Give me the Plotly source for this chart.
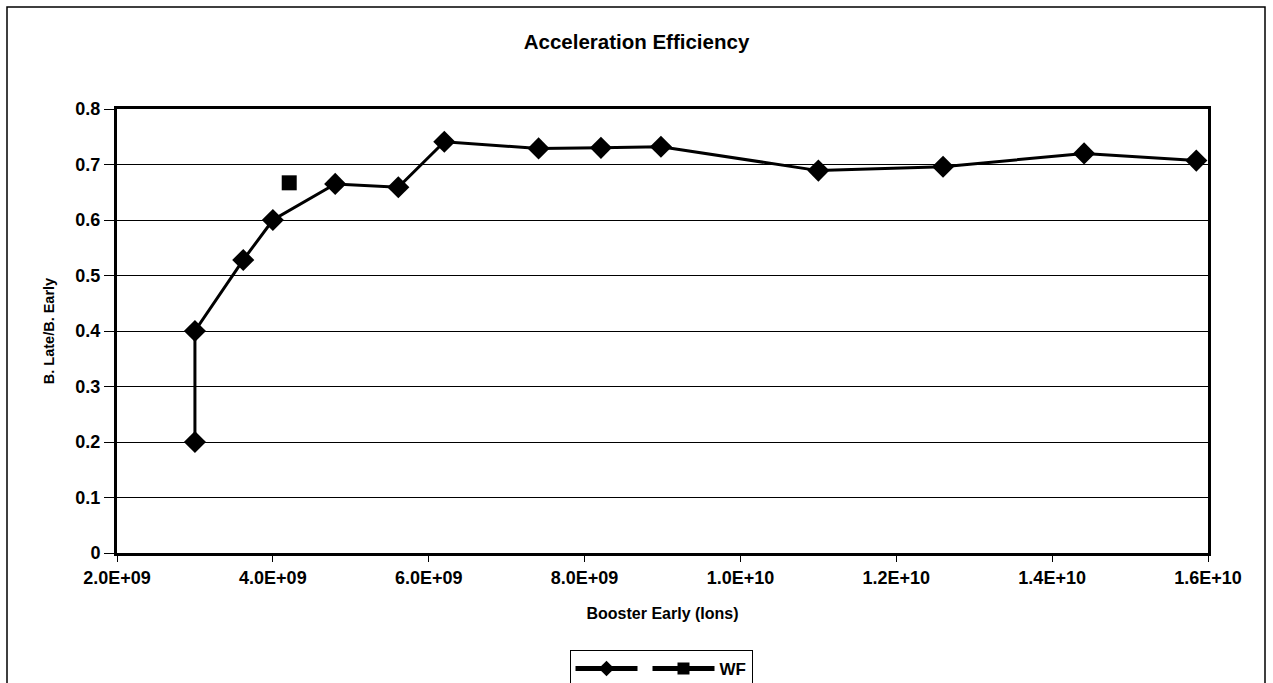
import plotly.graph_objects as go

# Data
booster_early = [3.0e9, 3.0e9, 3.62e9, 4.0e9, 4.8e9, 5.61e9, 6.2e9, 7.41e9, 8.21e9, 8.98e9,
                 1.10e10, 1.26e10, 1.441e10, 1.585e10]
ratio = [0.20, 0.40, 0.528, 0.600, 0.665, 0.659, 0.741, 0.729, 0.730, 0.732,
         0.689, 0.696, 0.720, 0.707]
wf_x = [4.21e9]
wf_y = [0.667]

x_ticks = [2e9, 4e9, 6e9, 8e9, 1e10, 1.2e10, 1.4e10, 1.6e10]
x_tick_labels = ["2.0E+09", "4.0E+09", "6.0E+09", "8.0E+09", "1.0E+10", "1.2E+10", "1.4E+10", "1.6E+10"]
y_ticks = [0, 0.1, 0.2, 0.3, 0.4, 0.5, 0.6, 0.7, 0.8]
y_tick_labels = ["0", "0.1", "0.2", "0.3", "0.4", "0.5", "0.6", "0.7", "0.8"]

FONT = "Liberation Sans, Arial, sans-serif"

fig = go.Figure()
fig.add_trace(go.Scatter(
    x=booster_early, y=ratio, mode="lines+markers", name="",
    line=dict(color="black", width=3),
    marker=dict(symbol="diamond", size=17, color="black"),
))
fig.add_trace(go.Scatter(
    x=wf_x, y=wf_y, mode="lines+markers", name="WF",
    line=dict(color="black", width=3),
    marker=dict(symbol="square", size=15, color="black"),
))

W, H = 1273, 683
L, R, T, B = 117, 65, 109, 130
pw, ph = W - L - R, H - T - B

def px_x(px):
    return (px - L) / pw

def px_y(py):
    return (H - B - py) / ph

fig.update_layout(
    width=W, height=H,
    margin=dict(l=L, r=R, t=T, b=B, autoexpand=False),
    paper_bgcolor="white", plot_bgcolor="white",
    font=dict(family=FONT, color="black"),
    title=dict(text="<b>Acceleration Efficiency</b>", x=0.5, xref="container",
               y=1 - 42 / H, yanchor="middle", font=dict(size=20.5, family=FONT)),
    showlegend=True,
    legend=dict(orientation="h", x=px_x(661), xanchor="center", y=px_y(650), yanchor="top",
                bordercolor="black", borderwidth=1, itemwidth=62,
                font=dict(size=17, family=FONT, weight="bold"),
                tracegroupgap=0, itemsizing="constant"),
    xaxis=dict(range=[2e9, 1.6e10], tickvals=x_ticks, ticktext=x_tick_labels,
               ticks="outside", ticklen=6, tickwidth=1, tickcolor="black",
               showgrid=False, zeroline=False,
               showline=True, linecolor="black", linewidth=3, mirror=True,
               tickfont=dict(size=18, family=FONT, weight="bold"),
               title=dict(text="<b>Booster Early (Ions)</b>", font=dict(size=16, family=FONT), standoff=22)),
    yaxis=dict(range=[0, 0.8], tickvals=y_ticks, ticktext=y_tick_labels,
               ticks="outside", ticklen=10, tickwidth=1, tickcolor="black",
               showgrid=True, gridcolor="black", gridwidth=1, zeroline=False,
               showline=True, linecolor="black", linewidth=3, mirror=True,
               tickfont=dict(size=18, family=FONT, weight="bold"),
               title=dict(text="<b>B. Late/B. Early</b>", font=dict(size=14.5, family=FONT), standoff=18)),
    shapes=[dict(type="rect", xref="paper", yref="paper",
                 x0=px_x(7), x1=px_x(1265), y0=px_y(695), y1=px_y(7),
                 line=dict(color="black", width=1.5), fillcolor="rgba(0,0,0,0)", layer="below")],
)

fig.write_html("out.html")
